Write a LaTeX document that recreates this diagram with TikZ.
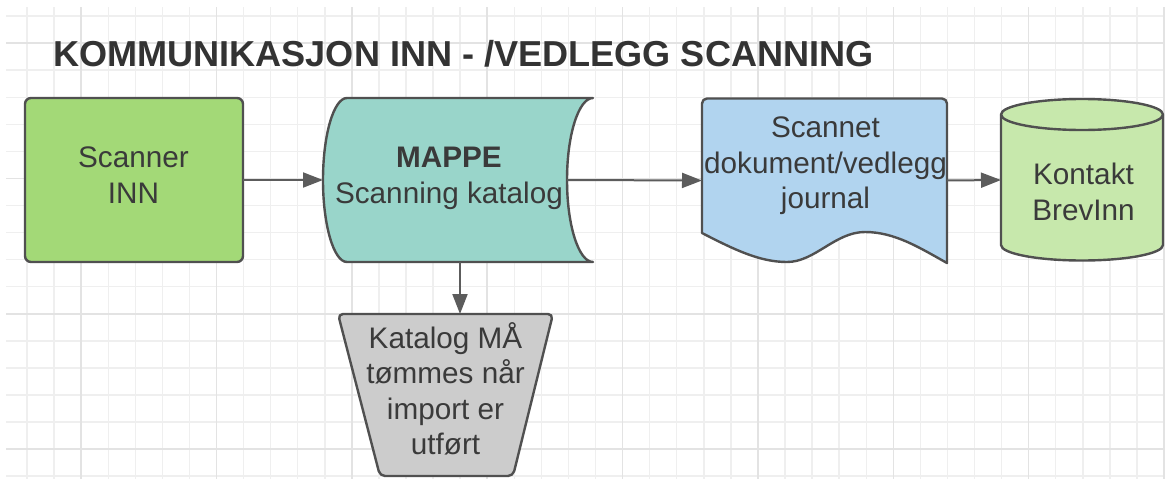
\documentclass[tikz,border=0pt]{standalone}
\usepackage{fontspec}
\setmainfont{Liberation Sans}
\usetikzlibrary{arrows.meta}
\definecolor{gridminor}{HTML}{EFEFEF}
\definecolor{gridmajor}{HTML}{E3E3E3}
\definecolor{edge}{HTML}{505050}
\definecolor{arrowc}{HTML}{5C5C5C}
\definecolor{txt}{HTML}{3A3A3A}
\definecolor{titlec}{HTML}{333333}
\definecolor{scanfill}{HTML}{A3D977}
\definecolor{mappefill}{HTML}{99D5CA}
\definecolor{docfill}{HTML}{B1D4EF}
\definecolor{cylfill}{HTML}{C7E8AC}
\definecolor{trapfill}{HTML}{CCCCCC}
\begin{document}
\begin{tikzpicture}[x=1pt,y=-1pt,
  frame/.style={inner sep=0pt, outer sep=0pt, draw=none, rectangle},
  shapeline/.style={draw=edge, line width=2.4pt, line join=round},
  lbl/.style={font=\fontsize{29.7}{35.5}\selectfont, align=center, inner sep=0pt, anchor=north, text=txt},
  arr/.style={draw=arrowc, line width=2pt, -{Triangle[length=20pt,width=15pt]}},
  gmin/.style={draw=gridminor, line width=1.4pt},
  gmaj/.style={draw=gridmajor, line width=1.6pt}]
\useasboundingbox (0,0) rectangle (1165,479);
\fill[white] (0,0) rectangle (1165,479);
% grid
\foreach \k in {1,...,43} \draw[gmin] (\k*27.07,7) -- (\k*27.07,479);
\foreach \k in {0,...,17} \draw[gmin] (6,16+\k*27.07) -- (1165,16+\k*27.07);
\foreach \k in {3,8,...,43} \draw[gmaj] (\k*27.07,7) -- (\k*27.07,479);
\foreach \k in {1,6,11,16} \draw[gmaj] (6,16+\k*27.07) -- (1165,16+\k*27.07);

% title
\node[anchor=base west, font=\fontsize{36.1}{40}\selectfont\bfseries, text=titlec, inner sep=0pt] (title) at (53,66.8) {KOMMUNIKASJON INN - /VEDLEGG SCANNING};

% frames (named anchors for the shapes)
\node[frame, minimum width=218pt, minimum height=164pt] (scan) at (134,180) {};
\node[frame, minimum width=270pt, minimum height=164pt] (mappe) at (458,180) {};
\node[frame, minimum width=245pt, minimum height=164pt] (doc) at (824.5,180.5) {};
\node[frame, minimum width=162pt, minimum height=162pt] (cyl) at (1082,180) {};
\node[frame, minimum width=215pt, minimum height=162pt] (trap) at (445.5,395) {};

% Scanner INN
\draw[shapeline, fill=scanfill, rounded corners=6pt] (scan.north west) rectangle (scan.south east);

% MAPPE stored data
\draw[shapeline, fill=mappefill] (347,98) -- (593,98)
  arc[start angle=90, end angle=270, x radius=26pt, y radius=82pt]
  -- (347,262)
  arc[start angle=270, end angle=90, x radius=24pt, y radius=82pt] -- cycle;

% document
\draw[shapeline, fill=docfill] (702,233) -- (702,103.5)
  arc[start angle=180, end angle=90, radius=5pt] -- (942,98.5)
  arc[start angle=90, end angle=0, radius=5pt] -- (947,263)
  .. controls (920,248) and (895,232) .. (865,232)
  .. controls (835,232) and (815,262) .. (787,262)
  .. controls (760,262) and (735,250) .. (702,233) -- cycle;

% cylinder
\draw[shapeline, fill=cylfill] (1001,114.5) -- (1001,245)
  arc[start angle=180, end angle=360, x radius=81pt, y radius=15.5pt]
  -- (1163,114.5)
  arc[start angle=0, end angle=180, x radius=81pt, y radius=15.5pt] -- cycle;
\draw[shapeline] (1001,114.5) arc[start angle=180, end angle=360, x radius=81pt, y radius=15.5pt];

% trapezoid
\draw[shapeline, fill=trapfill, rounded corners=5pt] (338,314) -- (553,314) -- (513,476) -- (380,476) -- cycle;

% labels
\node[lbl] (scanT) at (133.5,139.5) {\rule{0pt}{28pt}Scanner\\INN};
\node[lbl] (mappeT) at (449,139.5) {\rule{0pt}{28pt}\textbf{MAPPE}\\Scanning katalog};
\node[lbl] (docT) at (825.5,109.5) {\rule{0pt}{28pt}Scannet\\dokument/vedlegg\\journal};
\node[lbl] (cylT) at (1083.5,156.5) {\rule{0pt}{28pt}Kontakt\\BrevInn};
\node[lbl] (trapT) at (445.5,320) {\rule{0pt}{28pt}Katalog MÅ\\tømmes når\\import er\\utført};

% connectors
\draw[arr] (scan.east) -- (mappe.west);
\draw[arr] ([xshift=-26pt]mappe.east) -- (doc.west);
\draw[arr] (doc.east) -- (cyl.west);
\draw[arr] ([xshift=2pt]mappe.south) -- ([xshift=2pt]mappe.south |- trap.north);
\end{tikzpicture}
\end{document}
